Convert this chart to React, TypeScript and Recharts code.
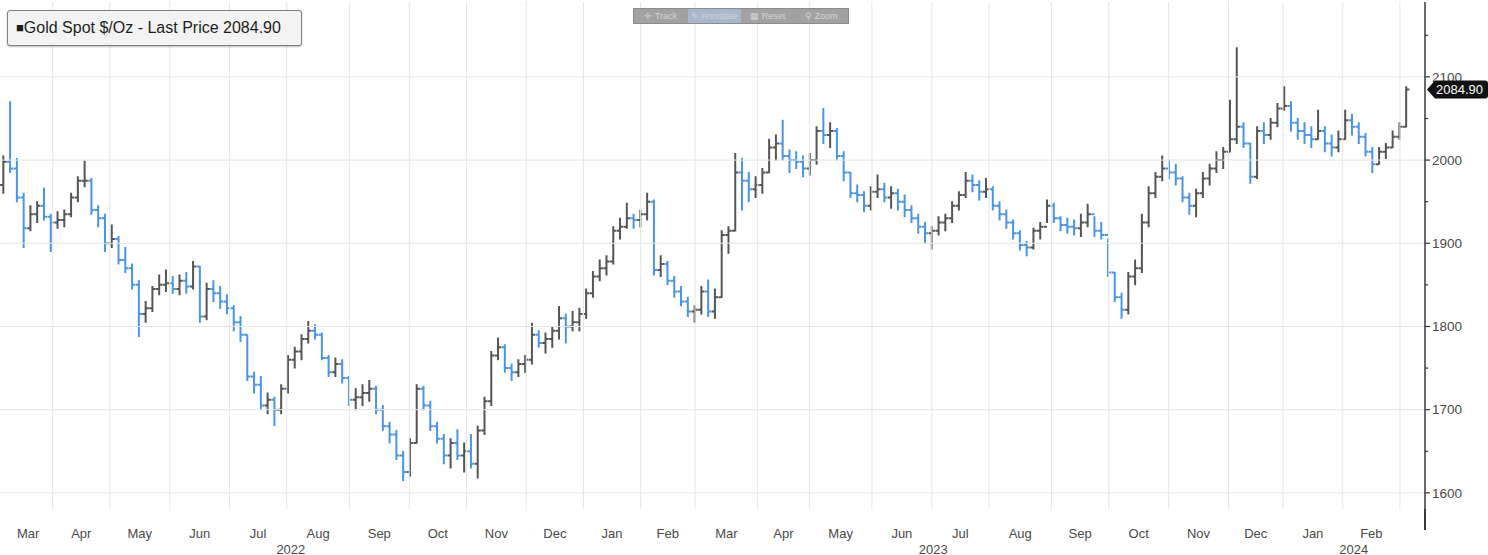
// Gold spot daily OHLC, Mar 2022 – Feb 2024, Bloomberg-style bar chart
// x axis counts trading sessions (0 = 1 Apr 2022)

import { ComposedChart, Bar, XAxis, YAxis, ReferenceLine } from 'recharts'

const highs = [
    2005, 2070, 2002, 1960, 1945, 1950, 1966, 1935, 1938, 1940, 1960, 1980, 1999, 1978, 1945, 1935,
    1922, 1908, 1895, 1875, 1855, 1830, 1848, 1862, 1868, 1860, 1862, 1865, 1878, 1872, 1852, 1855,
    1848, 1838, 1825, 1812, 1790, 1745, 1740, 1720, 1715, 1730, 1765, 1775, 1790, 1806, 1802, 1792,
    1765, 1762, 1760, 1740, 1725, 1730, 1735, 1728, 1705, 1685, 1675, 1650, 1665, 1730, 1728, 1710,
    1685, 1670, 1665, 1676, 1660, 1670, 1680, 1715, 1770, 1786, 1778, 1755, 1760, 1765, 1804, 1795,
    1792, 1800, 1824, 1815, 1818, 1822, 1845, 1866, 1880, 1885, 1920, 1930, 1948, 1935, 1940, 1960,
    1952, 1885, 1878, 1860, 1848, 1835, 1825, 1848, 1856, 1845, 1915, 1920, 2008, 2002, 1985, 1980,
    1990, 2025, 2030, 2048, 2012, 2010, 2005, 2008, 2040, 2062, 2045, 2038, 2010, 1985, 1970, 1962,
    1968, 1982, 1972, 1968, 1965, 1958, 1945, 1935, 1925, 1920, 1932, 1935, 1950, 1962, 1985, 1982,
    1975, 1978, 1968, 1950, 1940, 1928, 1915, 1902, 1918, 1925, 1952, 1948, 1932, 1930, 1928, 1935,
    1947, 1932, 1925, 1905, 1865, 1840, 1865, 1880, 1935, 1968, 1985, 2005, 2000, 1995, 1980, 1960,
    1965, 1985, 1995, 2010, 2015, 2072, 2135, 2045, 2020, 2040, 2045, 2050, 2068, 2088, 2070, 2050,
    2045, 2040, 2060, 2040, 2030, 2035, 2060, 2055, 2045, 2032, 2015, 2015, 2020, 2035, 2045, 2088,
]

const lows = [
    1960, 1985, 1950, 1895, 1915, 1925, 1928, 1890, 1918, 1920, 1932, 1950, 1968, 1935, 1920, 1890,
    1895, 1875, 1865, 1845, 1788, 1805, 1818, 1838, 1842, 1840, 1838, 1840, 1845, 1805, 1808, 1830,
    1822, 1815, 1795, 1782, 1735, 1720, 1700, 1695, 1681, 1695, 1720, 1750, 1760, 1780, 1785, 1760,
    1740, 1740, 1732, 1705, 1700, 1705, 1710, 1695, 1675, 1660, 1640, 1615, 1620, 1660, 1700, 1675,
    1660, 1635, 1630, 1640, 1625, 1630, 1618, 1670, 1705, 1760, 1745, 1735, 1740, 1745, 1755, 1775,
    1768, 1775, 1785, 1780, 1795, 1795, 1810, 1835, 1855, 1862, 1875, 1905, 1918, 1918, 1920, 1928,
    1862, 1860, 1850, 1835, 1825, 1812, 1805, 1815, 1812, 1810, 1835, 1888, 1915, 1940, 1950, 1955,
    1960, 1985, 2000, 2000, 1985, 1990, 1980, 1982, 1995, 2020, 2015, 2000, 1975, 1955, 1950, 1938,
    1940, 1955, 1950, 1942, 1940, 1932, 1925, 1912, 1900, 1893, 1910, 1915, 1925, 1940, 1955, 1962,
    1952, 1955, 1940, 1928, 1918, 1905, 1892, 1885, 1893, 1905, 1925, 1925, 1915, 1912, 1910, 1908,
    1920, 1908, 1905, 1860, 1830, 1810, 1815, 1850, 1865, 1920, 1955, 1975, 1978, 1970, 1950, 1935,
    1932, 1955, 1970, 1985, 1990, 2010, 2020, 2015, 1972, 1978, 2020, 2025, 2040, 2060, 2035, 2025,
    2020, 2015, 2025, 2010, 2005, 2010, 2025, 2030, 2020, 2005, 1985, 1995, 2002, 2015, 2025, 2040,
]

const closes = [
    1998, 1990, 1955, 1918, 1935, 1945, 1932, 1925, 1928, 1935, 1955, 1975, 1975, 1940, 1930, 1900,
    1905, 1880, 1870, 1850, 1815, 1822, 1845, 1850, 1852, 1845, 1855, 1848, 1872, 1812, 1845, 1840,
    1830, 1822, 1805, 1790, 1740, 1730, 1705, 1712, 1700, 1725, 1760, 1770, 1785, 1795, 1790, 1762,
    1745, 1755, 1738, 1712, 1715, 1720, 1725, 1700, 1680, 1670, 1645, 1625, 1660, 1725, 1705, 1680,
    1665, 1645, 1660, 1645, 1650, 1635, 1675, 1710, 1765, 1775, 1750, 1745, 1755, 1760, 1790, 1780,
    1785, 1795, 1810, 1800, 1805, 1815, 1840, 1860, 1870, 1878, 1915, 1920, 1930, 1928, 1935, 1950,
    1868, 1875, 1855, 1842, 1830, 1818, 1820, 1842, 1818, 1835, 1910, 1915, 1985, 1975, 1965, 1970,
    1985, 2015, 2020, 2005, 2000, 1998, 1990, 2000, 2035, 2030, 2035, 2005, 1985, 1960, 1958, 1945,
    1962, 1965, 1955, 1960, 1950, 1940, 1930, 1920, 1912, 1915, 1925, 1930, 1945, 1958, 1975, 1970,
    1962, 1965, 1945, 1935, 1925, 1912, 1898, 1895, 1915, 1920, 1945, 1930, 1922, 1920, 1918, 1925,
    1935, 1915, 1910, 1865, 1835, 1820, 1860, 1870, 1925, 1960, 1980, 1990, 1985, 1978, 1955, 1945,
    1960, 1978, 1990, 2000, 2010, 2025, 2040, 2020, 1980, 2035, 2030, 2045, 2062, 2065, 2045, 2035,
    2030, 2025, 2035, 2020, 2015, 2025, 2048, 2040, 2028, 2010, 1995, 2010, 2015, 2028, 2040, 2084.9,
]

const firstOpen = 1970
const lastPrice = 2084.9
const firstSession = -18
const sessionStep = 2.49

// session index where each month starts (Apr 2022 … Mar 2024)
const monthStarts = [0, 21, 43, 65, 86, 109, 131, 152, 174, 195, 216, 236, 259, 278, 301, 323, 344, 367, 388, 410, 432, 452, 474, 495]
const monthNames = ['Mar', 'Apr', 'May', 'Jun', 'Jul', 'Aug', 'Sep', 'Oct', 'Nov', 'Dec', 'Jan', 'Feb',
    'Mar', 'Apr', 'May', 'Jun', 'Jul', 'Aug', 'Sep', 'Oct', 'Nov', 'Dec', 'Jan', 'Feb']
const monthLabelAt = [-9, 10.5, 32, 54, 75.5, 97.5, 120, 141.5, 163, 184.5, 205.5, 226,
    247.5, 268.5, 289.5, 312, 333.5, 355.5, 377.5, 399, 421, 442, 463, 484.5]
const yearNames = ['2022', '2023', '2024']
const yearLabelAt = [87.5, 323.5, 478]
const priceGrid = [1600, 1700, 1800, 1900, 2000, 2100]
const priceTicks = [1600, 1650, 1700, 1750, 1800, 1850, 1900, 1950, 2000, 2050, 2100, 2150]

const UP = '#555555'
const DOWN = '#4a95e4'
const GRID = '#e6e6e6'
const LABEL = '#4a4a4a'
const FONT = "'Liberation Sans', Arial, sans-serif"

const rows = closes.map((close, i) => ({
    t: firstSession + i * sessionStep,
    range: [lows[i], highs[i]],
    open: i === 0 ? firstOpen : closes[i - 1],
    high: highs[i],
    low: lows[i],
    close,
}))

function OhlcBar(props: any) {
    const { x, y, width, height, payload } = props
    if (!payload || x == null) return null
    const top = Math.min(y, y + height)
    const bottom = Math.max(y, y + height)
    const span = payload.high - payload.low
    const toY = (p: number) => (span === 0 ? top : bottom - ((p - payload.low) / span) * (bottom - top))
    const cx = x + width / 2
    const color = payload.close >= payload.open ? UP : DOWN
    const yo = toY(payload.open)
    const yc = toY(payload.close)
    return (
        <g stroke={color} strokeWidth={2}>
            <line x1={cx} x2={cx} y1={top - 0.5} y2={bottom + 0.5} />
            <line x1={cx - 3.2} x2={cx} y1={yo} y2={yo} />
            <line x1={cx} x2={cx + 3.2} y1={yc} y2={yc} />
        </g>
    )
}

function PriceTick(props: any) {
    const { x, y, payload } = props
    const v = payload.value
    if (v === lastPrice) {
        return (
            <g>
                <path
                    d={`M${x + 2},${y} L${x + 10},${y - 9} H${x + 60} Q${x + 63},${y - 9} ${x + 63},${y - 6} V${y + 6} Q${x + 63},${y + 9} ${x + 60},${y + 9} H${x + 10} Z`}
                    fill="#111"
                />
                <text x={x + 11} y={y + 4.5} fill="#fff" fontSize={13} fontFamily={FONT}>
                    {v.toFixed(2)}
                </text>
            </g>
        )
    }
    const major = v % 100 === 0
    return (
        <g>
            <line x1={x} x2={x + (major ? 5 : 3)} y1={y} y2={y} stroke="#333" strokeWidth={1.2} />
            {major && (
                <text x={x + 7} y={y + 4.7} fill={LABEL} fontSize={13.5} fontFamily={FONT}>
                    {v}
                </text>
            )}
        </g>
    )
}

function MonthTick(props: any) {
    const { x, y, payload } = props
    const name = monthNames[monthLabelAt.indexOf(payload.value)]
    return (
        <text x={x} y={y + 28} textAnchor="middle" fill={LABEL} fontSize={13} fontFamily={FONT}>
            {name}
        </text>
    )
}

function YearTick(props: any) {
    const { x, y, payload } = props
    const name = yearNames[yearLabelAt.indexOf(payload.value)]
    return (
        <text x={x} y={y + 16} textAnchor="middle" fill={LABEL} fontSize={13} fontFamily={FONT}>
            {name}
        </text>
    )
}

const toolItems = [
    { label: '✛ Track', active: false },
    { label: '✎ Annotate', active: true },
    { label: '▦ Reset', active: false },
    { label: '⚲ Zoom', active: false },
]

export default function App() {
    const domainX: [number, number] = [-19.36, 504.2]
    return (
        <div style={{ position: 'absolute', left: 0, top: 0, width: 1488, height: 555, background: '#fff', overflow: 'hidden' }}>
            <ComposedChart width={1488} height={555} data={rows} margin={{ top: 2, right: 0, left: 0, bottom: 0 }}>
                <XAxis
                    xAxisId="m"
                    type="number"
                    dataKey="t"
                    domain={domainX}
                    allowDataOverflow
                    ticks={monthLabelAt}
                    interval={0}
                    axisLine={false}
                    tickLine={false}
                    tickSize={0}
                    tickMargin={0}
                    height={28}
                    tick={<MonthTick />}
                />
                <XAxis
                    xAxisId="yr"
                    type="number"
                    dataKey="t"
                    domain={domainX}
                    allowDataOverflow
                    ticks={yearLabelAt}
                    interval={0}
                    axisLine={false}
                    tickLine={false}
                    tickSize={0}
                    tickMargin={0}
                    height={17.5}
                    tick={<YearTick />}
                />
                <YAxis
                    orientation="right"
                    type="number"
                    domain={[1580, 2190]}
                    allowDataOverflow
                    ticks={[...priceTicks, lastPrice]}
                    interval={0}
                    width={63}
                    axisLine={{ stroke: '#3a3a3a', strokeWidth: 1.5 }}
                    tickLine={false}
                    tickSize={0}
                    tickMargin={0}
                    tick={<PriceTick />}
                />
                {priceGrid.map((p) => (
                    <ReferenceLine key={`h${p}`} xAxisId="m" y={p} stroke={GRID} strokeWidth={1} />
                ))}
                {monthStarts.map((t) => (
                    <ReferenceLine key={`v${t}`} xAxisId="m" x={t} stroke={GRID} strokeWidth={1} />
                ))}
                <Bar xAxisId="m" dataKey="range" barSize={4} shape={<OhlcBar />} isAnimationActive={false} />
            </ComposedChart>

            {/* axis line runs on past the plot into the date strip */}
            <div style={{ position: 'absolute', left: 1424.25, top: 509, width: 1.5, height: 21, background: '#3a3a3a' }} />

            <div
                style={{
                    position: 'absolute', left: 7, top: 10, width: 295, height: 36, boxSizing: 'border-box',
                    border: '1px solid #7e7e7e', borderRadius: 3, background: '#f3f3f3',
                    boxShadow: '0 1px 2px rgba(0,0,0,0.25)', fontFamily: FONT, fontSize: 16,
                    color: '#1e1e1e', lineHeight: '34px', paddingLeft: 8, whiteSpace: 'nowrap',
                }}
            >
                <span style={{ fontSize: 13, position: 'relative', top: -1 }}>■</span>Gold Spot $/Oz - Last Price 2084.90
            </div>

            <div
                style={{
                    position: 'absolute', left: 633, top: 8, width: 216, height: 16, boxSizing: 'border-box',
                    display: 'flex', background: '#a2a2a2', border: '1px solid #8c8c8c',
                    fontFamily: FONT, fontSize: 9, color: '#d4d4d4', lineHeight: '14px',
                }}
            >
                {toolItems.map((it) => (
                    <div
                        key={it.label}
                        style={{ flex: 1, textAlign: 'center', background: it.active ? '#a9b7cc' : 'transparent' }}
                    >
                        {it.label}
                    </div>
                ))}
            </div>
        </div>
    )
}
